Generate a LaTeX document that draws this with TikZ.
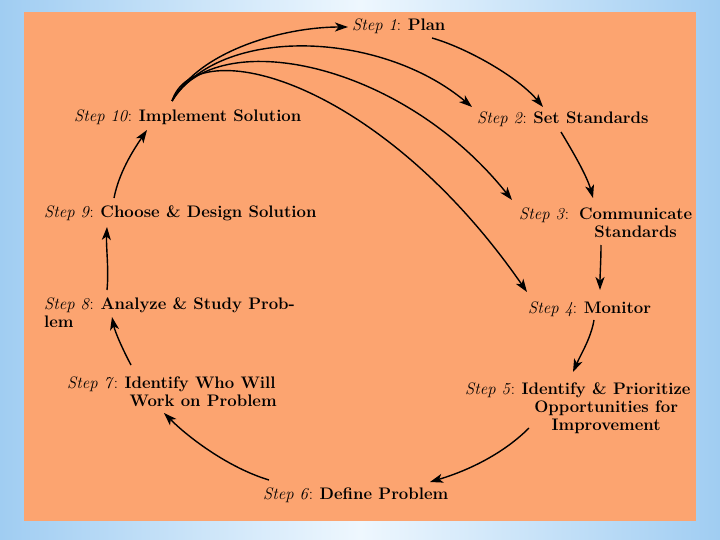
\documentclass[tikz,border=0pt]{standalone}
\usetikzlibrary{arrows.meta}
\definecolor{bgedge}{RGB}{160,205,242}
\definecolor{bgmid}{RGB}{238,247,254}
\definecolor{panel}{RGB}{252,164,112}
\tikzset{
  lbl/.style={anchor=base west, inner sep=0pt, font=\fontsize{16.7}{18}\selectfont},
  arr/.style={line width=1.4pt, -{Stealth[length=13pt,width=9pt,inset=3.5pt]}},
}
\begin{document}
\begin{tikzpicture}[x=1pt,y=-1pt]
\useasboundingbox (0,0) rectangle (720,540);
\shade[left color=bgedge,right color=bgedge,middle color=bgmid] (0,0) rectangle (720,540);
\fill[panel] (24,12) rectangle (696,521);

\node[lbl] (s1) at (352,31) {\textit{Step 1}: \textbf{Plan}};
\node[lbl] (s2) at (477,124) {\textit{Step 2}: \textbf{Set Standards}};
\node[lbl] (s3) at (519,219) {\textit{Step 3}:\ \ \begin{tabular}[t]{@{}c@{}}\textbf{Communicate}\\\textbf{Standards}\end{tabular}};
\node[lbl] (s4) at (528,313) {\textit{Step 4}: \textbf{Monitor}};
\node[lbl] (s5) at (465,394) {\textit{Step 5}: \begin{tabular}[t]{@{}c@{}}\textbf{Identify \& Prioritize}\\\textbf{Opportunities for}\\\textbf{Improvement}\end{tabular}};
\node[lbl] (s6) at (263,499) {\textit{Step 6}: \textbf{Define Problem}};
\node[lbl] (s7) at (67,388) {\textit{Step 7}: \begin{tabular}[t]{@{}l@{}}\textbf{Identify Who Will}\\\ \textbf{Work on Problem}\end{tabular}};
\node[lbl] (s8) at (44,309) {\begin{tabular}[t]{@{}l@{}}\textit{Step 8}: \textbf{Analyze \& Study Prob-}\\\textbf{lem}\end{tabular}};
\node[lbl] (s9) at (44,218) {\textit{Step 9}: \textbf{Choose \& Design Solution}};
\node[lbl] (s10) at (74,122) {\textit{Step 10}: \textbf{Implement Solution}};

\coordinate (fan) at ([shift={(98,-21)}]s10.base west);

% fan from step 10
\draw[arr] (fan) .. controls +(28,-51) and +(-63,0) .. ([shift={(-4,-4)}]s1.base west);
\draw[arr] (fan) .. controls +(48,-76) and +(-92,-77) .. ([shift={(-5,-17)}]s2.base west);
\draw[arr] (fan) .. controls +(43,-76) and +(-112,-140) .. ([shift={(-7,-19)}]s3.base west);
\draw[arr] (fan) .. controls +(23,-71) and +(-147,-212) .. ([shift={(-1,-21)}]s4.base west);

% cycle
\draw[arr] ([shift={(80,7)}]s1.base west) .. controls +(35,10) and +(-25,-30) .. ([shift={(66,-17)}]s2.base west);
\draw[arr] ([shift={(84,8)}]s2.base west) .. controls +(12,20) and +(-6,-22) .. ([shift={(74,-21)}]s3.base west);
\draw[arr] ([shift={(82,26)}]s3.base west) .. controls +(0,15) and +(0,-15) .. ([shift={(72,-23)}]s4.base west);
\draw[arr] ([shift={(66,7)}]s4.base west) .. controls +(-3,18) and +(8,-18) .. ([shift={(108,-22)}]s5.base west);
\draw[arr] ([shift={(64,34)}]s5.base west) .. controls +(-25,25) and +(40,-12) .. ([shift={(167,-17)}]s6.base west);
\draw[arr] ([shift={(6,-19)}]s6.base west) .. controls +(-40,-12) and +(25,25) .. ([shift={(97,25)}]s7.base west);
\draw[arr] ([shift={(64,-23)}]s7.base west) .. controls +(-8,-15) and +(3,15) .. ([shift={(68,8)}]s8.base west);
\draw[arr] ([shift={(63,-19)}]s8.base west) .. controls +(2,-20) and +(-1,20) .. ([shift={(63,9)}]s9.base west);
\draw[arr] ([shift={(70,-20)}]s9.base west) .. controls +(5,-25) and +(-15,22) .. ([shift={(73,8)}]s10.base west);
\end{tikzpicture}
\end{document}
